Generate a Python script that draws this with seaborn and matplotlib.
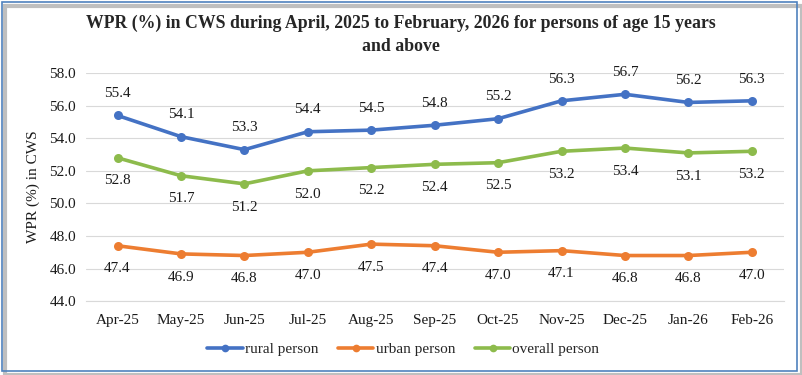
import pandas as pd
import matplotlib.pyplot as plt
import seaborn as sns
from matplotlib.patches import Rectangle
from matplotlib.ticker import FixedLocator

months = ['Apr-25', 'May-25', 'Jun-25', 'Jul-25', 'Aug-25', 'Sep-25',
          'Oct-25', 'Nov-25', 'Dec-25', 'Jan-26', 'Feb-26']
rural = [55.4, 54.1, 53.3, 54.4, 54.5, 54.8, 55.2, 56.3, 56.7, 56.2, 56.3]
urban = [47.4, 46.9, 46.8, 47.0, 47.5, 47.4, 47.0, 47.1, 46.8, 46.8, 47.0]
overall = [52.8, 51.7, 51.2, 52.0, 52.2, 52.4, 52.5, 53.2, 53.4, 53.1, 53.2]
series_names = ['rural person', 'urban person', 'overall person']
colors = ['#4472C4', '#ED7D31', '#8DBB4C']

sns.set_style('white')
plt.rcParams['font.family'] = ['Liberation Serif', 'DejaVu Serif']

df = pd.DataFrame({
    'month': months * 3,
    'x': list(range(len(months))) * 3,
    'value': rural + urban + overall,
    'series': [s for s in series_names for _ in months],
})

fig = plt.figure(figsize=(8.02, 3.75), dpi=100)
ax = fig.add_axes([0.107, 0.197, 0.870, 0.608])

sns.lineplot(data=df, x='x', y='value', hue='series', hue_order=series_names,
             palette=colors, marker='o', markersize=6.5, markeredgewidth=0,
             linewidth=2.6, ax=ax)

# data labels
offsets = {'rural person': 11, 'urban person': -12, 'overall person': -12}
for name, vals in zip(series_names, [rural, urban, overall]):
    for i, v in enumerate(vals):
        ax.annotate(f'{v:.1f}', (i, v), xytext=(0, offsets[name]),
                    textcoords='offset points', ha='center',
                    va='bottom' if offsets[name] > 0 else 'top',
                    fontsize=11, color='#1a1a1a')

ax.set_xlim(-0.5, len(months) - 0.5)
ax.set_ylim(44, 58)
ax.set_yticks([44 + 2 * i for i in range(8)])
ax.set_yticklabels([f'{44 + 2 * i:.1f}' for i in range(8)])
ax.set_xticks(range(len(months)))
ax.set_xticklabels(months)
ax.xaxis.set_minor_locator(FixedLocator([i - 0.5 for i in range(len(months) + 1)]))
ax.tick_params(axis='x', which='major', length=0, pad=9, labelsize=11, colors='#1a1a1a')
ax.tick_params(axis='x', which='minor', length=5, width=0.8, color='#D9D9D9')
ax.tick_params(axis='y', length=0, pad=7, labelsize=11, colors='#1a1a1a')
ax.grid(axis='y', color='#D9D9D9', linewidth=0.8)
ax.set_axisbelow(True)
for s in ['top', 'right', 'left']:
    ax.spines[s].set_visible(False)
ax.spines['bottom'].set_color('#D9D9D9')
ax.set_xlabel('')
ax.set_ylabel('WPR (%) in CWS', fontsize=11, color='#1a1a1a', labelpad=7)

ax.get_legend().remove()
handles, labels = ax.get_legend_handles_labels()
fig.legend(handles, labels, loc='center', bbox_to_anchor=(0.503, 0.068), ncol=3,
           frameon=False, fontsize=11, handlelength=2.3, columnspacing=1.3,
           handletextpad=0.15, markerscale=0.85)

fig.suptitle('WPR (%) in CWS during April, 2025 to February, 2026 for persons of age 15 years\nand above',
             x=0.5, y=0.96, fontsize=12.8, fontweight='bold', linespacing=1.4)

# frame with shadow
fig.patches.append(Rectangle((0.006, 0.0), 0.994, 0.985, transform=fig.transFigure,
                             fill=False, edgecolor='#BFBFBF', linewidth=3, zorder=0))
fig.patches.append(Rectangle((0.002, 0.012), 0.992, 0.984, transform=fig.transFigure,
                             fill=False, edgecolor='#4F81BD', linewidth=1.2, zorder=1))

fig.savefig('out.png', dpi=100)
